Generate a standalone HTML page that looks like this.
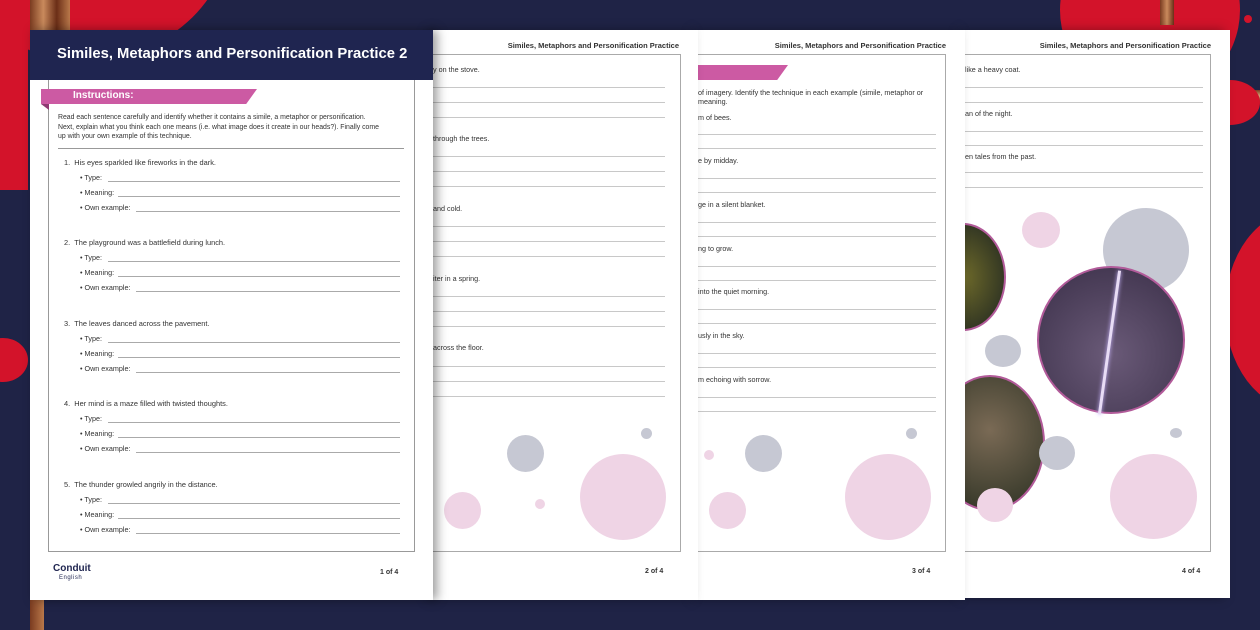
<!DOCTYPE html>
<html><head><meta charset="utf-8"><style>
*{margin:0;padding:0;box-sizing:border-box}
body{width:1260px;height:630px;overflow:hidden;background:#1f2346;position:relative;font-family:"Liberation Sans",sans-serif}
.a{position:absolute}
.pg{position:absolute;background:#fff;overflow:hidden;box-shadow:-6px 0 10px rgba(0,0,0,.35)}
.t{position:absolute;font-size:7.2px;color:#333;white-space:nowrap}
.l{position:absolute;height:1px;background:#c8c8c8}
.c{position:absolute;border-radius:50%}
.hd{position:absolute;font-size:7.5px;font-weight:bold;color:#333;white-space:nowrap}
</style></head><body>
<div class="c" style="left:-60px;top:-200px;width:290px;height:260px;background:#d3132a"></div>
<div class="a" style="left:0;top:0;width:28px;height:190px;background:#d3132a"></div>
<div class="a" style="left:30px;top:0;width:40px;height:30px;background:linear-gradient(90deg,#7a3b20,#c98a5c,#6b2e17,#b9784a)"></div>
<div class="a" style="left:30px;top:600px;width:14px;height:30px;background:linear-gradient(90deg,#7a3b20,#b9784a)"></div>
<div class="c" style="left:-22px;top:338px;width:50px;height:44px;background:#d3132a"></div>
<div class="c" style="left:1060px;top:-80px;width:180px;height:180px;background:#d3132a"></div>
<div class="c" style="left:1244px;top:15px;width:8px;height:8px;background:#d3132a"></div>
<div class="a" style="left:1230px;top:90px;width:30px;height:12px;background:linear-gradient(#7a3b20,#d9a27a,#6b2e17)"></div>
<div class="c" style="left:1200px;top:80px;width:60px;height:45px;background:#d3132a"></div>
<div class="c" style="left:1225px;top:210px;width:150px;height:200px;background:#d3132a"></div>
<div class="a" style="left:1160px;top:0;width:14px;height:25px;background:linear-gradient(90deg,#7a3b20,#c98a5c,#6b2e17)"></div>

<!-- page 4 -->
<div class="pg" style="left:965px;top:30px;width:265px;height:568px">
 <div class="hd" style="right:19px;top:11px">Similes, Metaphors and Personification Practice</div>
 <div class="a" style="left:0;top:24px;width:246px;height:498px;border:1px solid #aaa;border-left:none"></div>
 <div class="t" style="left:0;top:35px">like a heavy coat.</div>
 <div class="l" style="left:0;top:57px;width:238px"></div><div class="l" style="left:0;top:72px;width:238px"></div>
 <div class="t" style="left:0;top:79px">an of the night.</div>
 <div class="l" style="left:0;top:101px;width:238px"></div><div class="l" style="left:0;top:115px;width:238px"></div>
 <div class="t" style="left:0;top:122px">en tales from the past.</div>
 <div class="l" style="left:0;top:142px;width:238px"></div><div class="l" style="left:0;top:157px;width:238px"></div>
 <div class="c" style="left:57px;top:182px;width:38px;height:36px;background:#efd4e5"></div>
 <div class="c" style="left:138px;top:178px;width:86px;height:84px;background:#c6c8d3"></div>
 <div class="c" style="left:-45px;top:193px;width:86px;height:108px;background:radial-gradient(#6e6a2a,#1d2420);border:2px solid #b25b9a"></div>
 <div class="c" style="left:72px;top:236px;width:148px;height:148px;background:radial-gradient(circle at 50% 60%,#6a5a78,#3a2f48);border:2px solid #b25b9a"></div>
 <div class="a" style="left:143px;top:240px;width:3px;height:145px;background:#e8dcf5;transform:rotate(8deg);box-shadow:0 0 4px #c9b6ff"></div>
 <div class="c" style="left:20px;top:305px;width:36px;height:32px;background:#c6c8d3"></div>
 <div class="c" style="left:-30px;top:345px;width:110px;height:136px;background:radial-gradient(circle at 50% 40%,#7a6a55,#2b3022);border:2px solid #b25b9a"></div>
 <div class="c" style="left:74px;top:406px;width:36px;height:34px;background:#c6c8d3"></div>
 <div class="c" style="left:12px;top:458px;width:36px;height:34px;background:#efd4e5"></div>
 <div class="c" style="left:145px;top:424px;width:87px;height:85px;background:#efd4e5"></div>
 <div class="c" style="left:205px;top:398px;width:12px;height:10px;background:#c6c8d3"></div>
 <div class="hd" style="left:217px;top:538px;font-size:7px">4 of 4</div>
</div>

<!-- page 3 -->
<div class="pg" style="left:698px;top:30px;width:267px;height:570px">
 <div class="hd" style="right:19px;top:11px">Similes, Metaphors and Personification Practice</div>
 <div class="a" style="left:0;top:24px;width:248px;height:498px;border:1px solid #aaa;border-left:none"></div>
 <div class="a" style="left:0;top:35px;width:90px;height:15px;background:#cc5aa3;clip-path:polygon(0 0,100% 0,88% 100%,0 100%)"></div>
 <div class="t" style="left:0;top:58px">of imagery. Identify the technique in each example (simile, metaphor or</div>
 <div class="t" style="left:0;top:67px">meaning.</div>
 <div class="t" style="left:0;top:83px">m of bees.</div>
 <div class="l" style="left:0;top:104px;width:238px"></div><div class="l" style="left:0;top:118px;width:238px"></div>
 <div class="t" style="left:0;top:126px">e by midday.</div>
 <div class="l" style="left:0;top:148px;width:238px"></div><div class="l" style="left:0;top:162px;width:238px"></div>
 <div class="t" style="left:0;top:170px">ge in a silent blanket.</div>
 <div class="l" style="left:0;top:192px;width:238px"></div><div class="l" style="left:0;top:206px;width:238px"></div>
 <div class="t" style="left:0;top:214px">ng to grow.</div>
 <div class="l" style="left:0;top:236px;width:238px"></div><div class="l" style="left:0;top:250px;width:238px"></div>
 <div class="t" style="left:0;top:257px">into the quiet morning.</div>
 <div class="l" style="left:0;top:279px;width:238px"></div><div class="l" style="left:0;top:293px;width:238px"></div>
 <div class="t" style="left:0;top:301px">usly in the sky.</div>
 <div class="l" style="left:0;top:323px;width:238px"></div><div class="l" style="left:0;top:337px;width:238px"></div>
 <div class="t" style="left:0;top:345px">m echoing with sorrow.</div>
 <div class="l" style="left:0;top:367px;width:238px"></div><div class="l" style="left:0;top:381px;width:238px"></div>
 <div class="c" style="left:47px;top:405px;width:37px;height:37px;background:#c6c8d3"></div>
 <div class="c" style="left:11px;top:462px;width:37px;height:37px;background:#efd4e5"></div>
 <div class="c" style="left:147px;top:424px;width:86px;height:86px;background:#efd4e5"></div>
 <div class="c" style="left:208px;top:398px;width:11px;height:11px;background:#c6c8d3"></div>
 <div class="c" style="left:6px;top:420px;width:10px;height:10px;background:#efd4e5"></div>
 <div class="hd" style="left:214px;top:538px;font-size:7px">3 of 4</div>
</div>

<!-- page 2 -->
<div class="pg" style="left:433px;top:30px;width:265px;height:570px">
 <div class="hd" style="right:19px;top:11px">Similes, Metaphors and Personification Practice</div>
 <div class="a" style="left:0;top:24px;width:248px;height:498px;border:1px solid #aaa;border-left:none"></div>
 <div class="t" style="left:0;top:35px">y on the stove.</div>
 <div class="l" style="left:0;top:57px;width:232px"></div><div class="l" style="left:0;top:72px;width:232px"></div><div class="l" style="left:0;top:87px;width:232px"></div>
 <div class="t" style="left:0;top:104px">through the trees.</div>
 <div class="l" style="left:0;top:126px;width:232px"></div><div class="l" style="left:0;top:141px;width:232px"></div><div class="l" style="left:0;top:156px;width:232px"></div>
 <div class="t" style="left:0;top:174px">and cold.</div>
 <div class="l" style="left:0;top:196px;width:232px"></div><div class="l" style="left:0;top:211px;width:232px"></div><div class="l" style="left:0;top:226px;width:232px"></div>
 <div class="t" style="left:0;top:244px">iter in a spring.</div>
 <div class="l" style="left:0;top:266px;width:232px"></div><div class="l" style="left:0;top:281px;width:232px"></div><div class="l" style="left:0;top:296px;width:232px"></div>
 <div class="t" style="left:0;top:313px">across the floor.</div>
 <div class="l" style="left:0;top:336px;width:232px"></div><div class="l" style="left:0;top:351px;width:232px"></div><div class="l" style="left:0;top:366px;width:232px"></div>
 <div class="c" style="left:74px;top:405px;width:37px;height:37px;background:#c6c8d3"></div>
 <div class="c" style="left:11px;top:462px;width:37px;height:37px;background:#efd4e5"></div>
 <div class="c" style="left:147px;top:424px;width:86px;height:86px;background:#efd4e5"></div>
 <div class="c" style="left:208px;top:398px;width:11px;height:11px;background:#c6c8d3"></div>
 <div class="c" style="left:102px;top:469px;width:10px;height:10px;background:#efd4e5"></div>
 <div class="hd" style="left:212px;top:538px;font-size:7px">2 of 4</div>
</div>

<!-- page 1 -->
<div class="pg" style="left:30px;top:30px;width:403px;height:570px;box-shadow:4px 0 10px rgba(0,0,0,.4)">
 <div class="a" style="left:0;top:0;width:403px;height:50px;background:#1f2550"></div>
 <div class="a" style="left:27px;top:16px;font-size:14.8px;font-weight:bold;color:#fff;white-space:nowrap">Similes, Metaphors and Personification Practice 2</div>
 <div class="a" style="left:18px;top:50px;width:367px;height:472px;border:1px solid #999;border-top:none"></div>
 <div class="a" style="left:11px;top:59px;width:216px;height:15px;background:#cc5aa3;clip-path:polygon(0 0,100% 0,95% 100%,0 100%)"></div>
 <div class="a" style="left:11px;top:74px;width:8px;height:6px;background:#8f3a73;clip-path:polygon(0 0,100% 0,100% 100%)"></div>
 <div class="a" style="left:43px;top:60px;font-size:10px;font-weight:bold;color:#fff">Instructions:</div>
 <div class="t" style="left:28px;top:83px;line-height:9.5px;font-size:6.9px">Read each sentence carefully and identify whether it contains a simile, a metaphor or personification.<br>Next, explain what you think each one means (i.e. what image does it create in our heads?). Finally come<br>up with your own example of this technique.</div>
 <div class="a" style="left:28px;top:118px;width:346px;height:1px;background:#999"></div>
 <div id="items"></div>
 <div class="a" style="left:23px;top:533px;font-size:10px;font-weight:bold;color:#1f2550">Conduit</div>
 <div class="a" style="left:29px;top:545px;font-size:6px;color:#1f2550;letter-spacing:.5px">English</div>
 <div class="hd" style="left:350px;top:539px;font-size:7px">1 of 4</div>
</div>
<script>
var s=["His eyes sparkled like fireworks in the dark.","The playground was a battlefield during lunch.","The leaves danced across the pavement.","Her mind is a maze filled with twisted thoughts.","The thunder growled angrily in the distance."];
var y0=[128,208,289,369,450],h="";
var lab=[["Type:",78],["Meaning:",88],["Own example:",106]];
s.forEach(function(t,i){var y=y0[i];h+='<div class="t" style="left:34px;top:'+y+'px;font-size:7.4px">'+(i+1)+'.&nbsp;&nbsp;'+t+'</div>';
lab.forEach(function(l,j){var yy=y+15+j*15;h+='<div class="t" style="left:50px;top:'+yy+'px">• '+l[0]+'</div><div class="l" style="left:'+l[1]+'px;top:'+(yy+8)+'px;width:'+(370-l[1])+'px;background:#aaa"></div>';});});
document.getElementById('items').outerHTML=h;
</script>
</body></html>
